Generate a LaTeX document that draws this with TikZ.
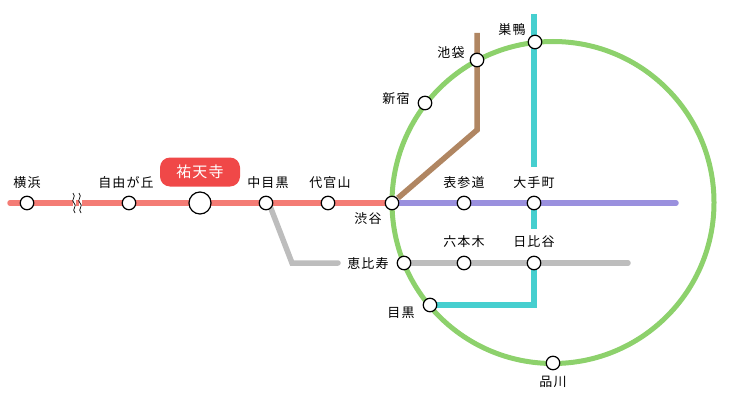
\documentclass[tikz,border=0pt]{standalone}
\usepackage{fontspec}
\setmainfont[LetterSpace=8]{Noto Sans CJK JP}
\definecolor{gr}{HTML}{8DD16C}
\definecolor{rd}{HTML}{F47C75}
\definecolor{pu}{HTML}{9A90DE}
\definecolor{br}{HTML}{B08662}
\definecolor{cy}{HTML}{46CFCF}
\definecolor{gy}{HTML}{BDBDBD}
\definecolor{lab}{HTML}{F04848}
\begin{document}
\begin{tikzpicture}[x=1pt,y=-1pt,
  st/.style={circle,draw=black,fill=white,line width=1.2pt,minimum size=13.5pt,inner sep=0pt},
  big/.style={st,minimum size=22pt},
  ln/.style={line width=5.5pt},
  lb/.style={font=\fontsize{13}{14}\selectfont,inner sep=1pt}]
\useasboundingbox (0,0) rectangle (730,404);
% green loop
\draw[gr,line width=5pt] (553,202.5) circle[radius=161];
% lines
\draw[ln,rd,line cap=round] (10,203) -- (392,203);
\draw[ln,pu,line cap=round] (392,203) -- (676,203);
\draw[ln,br] (398,198) -- (477,130) -- (477,33);
\draw[ln,cy] (534,14) -- (534,167);
\draw[ln,cy] (534,203) -- (534,229);
\draw[ln,cy] (534,263) -- (534,305) -- (430,305);
\draw[ln,gy,line cap=round] (270,206) -- (292,263) -- (338,263);
\draw[ln,gy,line cap=round] (404,263) -- (628,263);
% break mark
\foreach \xx in {74,80}{
 \draw[white,line width=3pt] (\xx,193) -- (\xx,213);
 \draw[black,line width=0.7pt] (\xx-1,193) .. controls (\xx+3,197) and (\xx-4,200) .. (\xx,203) .. controls (\xx+4,206) and (\xx-3,209) .. (\xx+1,213);}
% stations
\node[st] (yok) at (27,203) {};
\node[st] (jiy) at (129,203) {};
\node[big] (yut) at (200,203) {};
\node[st] (nak) at (266,203) {};
\node[st] (dai) at (328,203) {};
\node[st] (shb) at (392,203) {};
\node[st] (omo) at (464,203) {};
\node[st] (ote) at (534,203) {};
\node[st] (ebi) at (404,263) {};
\node[st] (rop) at (464,263) {};
\node[st] (hib) at (534,263) {};
\node[st] (meg) at (430,305) {};
\node[st] (shj) at (425,103) {};
\node[st] (ike) at (477,60) {};
\node[st] (sug) at (535,42) {};
\node[st] (shn) at (553,363) {};
% labels
\node[lb] at (27,183) {横浜};
\node[lb] at (126,183) {自由が丘};
\node[fill=lab,rounded corners=10pt,minimum width=80pt,minimum height=29pt,text=white,font=\fontsize{15}{16}\selectfont] (yl) at (200,172) {祐天寺};
\node[lb] at (268,183) {中目黒};
\node[lb] at (330,183) {代官山};
\node[lb] at (368,219) {渋谷};
\node[lb] at (464,183) {表参道};
\node[lb] at (534,183) {大手町};
\node[lb] at (464,242) {六本木};
\node[lb] at (534,242) {日比谷};
\node[lb] at (368,264) {恵比寿};
\node[lb] at (401,313) {目黒};
\node[lb] at (396,99) {新宿};
\node[lb] at (451,53) {池袋};
\node[lb] at (512,30) {巣鴨};
\node[lb] at (553,382) {品川};
\end{tikzpicture}
\end{document}
